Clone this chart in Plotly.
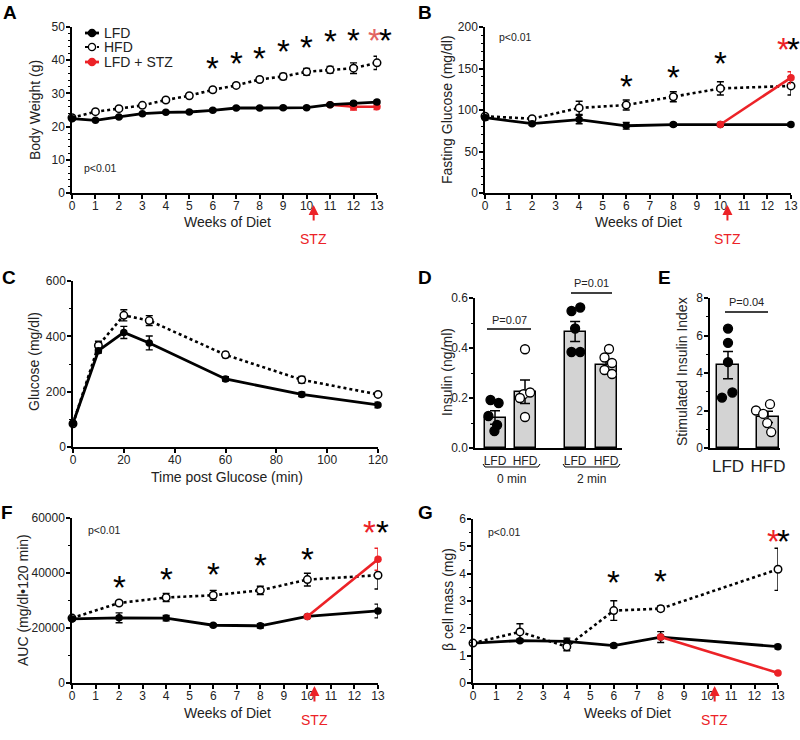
import plotly.graph_objects as go

W, H = 800, 740
RED = "#ec2227"
PINK = "#e26464"
FONT = "Arial, Liberation Sans, sans-serif"

# ---------------- Data ----------------
# A: body weight
weeks_A = list(range(14))
bw_lfd = [22.4, 21.9, 22.9, 23.9, 24.3, 24.4, 24.9, 25.6, 25.6, 25.7, 25.7, 26.6, 27.0, 27.4]
bw_lfd_err = [0.4, 0.3, 0.3, 0.3, 0.3, 0.3, 0.4, 0.4, 0.4, 0.4, 0.4, 0.4, 0.5, 0.5]
bw_hfd = [22.7, 24.5, 25.4, 26.4, 28.0, 29.3, 31.1, 32.4, 34.2, 35.1, 36.5, 37.1, 37.6, 39.2]
bw_hfd_err = [0.3, 0.5, 0.5, 0.5, 0.5, 0.5, 0.6, 0.6, 0.6, 0.9, 1.0, 1.0, 1.6, 2.0]
weeks_A_stz = [11, 12, 13]
bw_stz = [26.6, 26.0, 26.0]
bw_stz_err = [0.3, 1.0, 0.9]
star_weeks_A = [6, 7, 8, 9, 10, 11, 12]
star_y_A = [40.0, 41.5, 43.0, 45.0, 46.3, 48.0, 48.3]

# B: fasting glucose
weeks_B = [0, 2, 4, 6, 8, 10, 13]
fg_lfd = [90.8, 83.5, 88.5, 81.0, 82.5, 82.5, 82.5]
fg_lfd_err = [3, 2, 5, 4, 2, 2, 2]
fg_hfd = [92.5, 89.5, 102.5, 106.0, 116.0, 126.0, 129.0]
fg_hfd_err = [2, 2, 8, 6, 6, 8, 11]
weeks_B_stz = [10, 13]
fg_stz = [82.5, 139.0]
fg_stz_err = [0, 7]
star_weeks_B = [6, 8, 10]
star_y_B = [138, 149, 166]

# C: glucose tolerance
time_C = [0, 10, 20, 30, 60, 90, 120]
gtt_lfd = [86, 348, 414, 376, 246, 190, 152]
gtt_lfd_err = [5, 8, 22, 25, 8, 8, 10]
gtt_hfd = [84, 367, 476, 457, 333, 243, 190]
gtt_hfd_err = [5, 15, 20, 18, 10, 12, 6]

# D: insulin
groups_D = ["LFD", "HFD", "LFD", "HFD"]
ins_mean = [0.122, 0.225, 0.466, 0.333]
ins_err = [0.027, 0.047, 0.04, 0.021]
ins_pts = [
    [0.192, 0.180, 0.128, 0.092, 0.068],
    [0.395, 0.215, 0.222, 0.200, 0.124],
    [0.548, 0.562, 0.478, 0.384, 0.384],
    [0.396, 0.362, 0.340, 0.312, 0.296],
]
jit_D = [
    [-0.15, 0.12, -0.22, 0.07, -0.02],
    [0.0, -0.05, 0.17, -0.17, 0.0],
    [-0.12, 0.17, 0.0, -0.12, 0.17],
    [0.1, -0.05, 0.2, -0.05, 0.2],
]

# E: stimulated insulin index
groups_E = ["LFD", "HFD"]
sii_mean = [4.42, 1.66]
sii_err = [0.73, 0.30]
sii_pts = [[6.37, 5.61, 4.58, 2.69, 2.96], [2.0, 1.82, 2.34, 1.33, 0.85]]
jit_E = [[0.0, 0.0, 0.0, -0.15, 0.11], [-0.3, -0.12, 0.05, -0.02, 0.08]]

# F: AUC
weeks_F = [0, 2, 4, 6, 8, 10, 13]
auc_lfd = [23300, 23700, 23600, 21000, 20800, 24200, 26200]
auc_lfd_err = [600, 1800, 1000, 500, 800, 400, 2500]
auc_hfd = [23600, 29100, 31100, 31900, 33700, 37600, 39200]
auc_hfd_err = [500, 700, 1500, 1800, 1500, 2300, 5000]
weeks_F_stz = [10, 13]
auc_stz = [24200, 45000]
auc_stz_err = [0, 4000]
star_weeks_F = [2, 4, 6, 8, 10]
star_y_F = [37600, 40600, 42400, 45800, 47900]

# G: beta cell mass
weeks_G = [0, 2, 4, 6, 8, 13]
bcm_lfd = [1.46, 1.55, 1.52, 1.37, 1.68, 1.33]
bcm_lfd_err = [0.03, 0.06, 0.12, 0.07, 0.2, 0.08]
bcm_hfd = [1.46, 1.87, 1.33, 2.65, 2.72, 4.16]
bcm_hfd_err = [0.03, 0.3, 0.15, 0.36, 0.1, 0.77]
weeks_G_stz = [8, 13]
bcm_stz = [1.68, 0.37]
bcm_stz_err = [0, 0.03]
star_weeks_G = [6, 8]
star_y_G = [3.98, 4.0]

week_ticks = list(range(14))

# ---------------- Layout helpers ----------------
def px_dom_x(a, b):
    return [a / W, b / W]

def px_dom_y(top, bottom):
    return [1 - bottom / H, 1 - top / H]

def axis(dom, rng, tickvals=None, ticktext=None, minor=None, tickfont=12, showticks=True, standoff=-3):
    d = dict(domain=dom, range=rng, showline=True, linewidth=1.5, linecolor="black",
             ticks="outside" if showticks else "", ticklen=4, tickwidth=1.5, tickcolor="black",
             showgrid=False, zeroline=False, tickfont=dict(size=tickfont, color="#222", family=FONT),
             fixedrange=True, automargin=False, ticklabelstandoff=standoff)
    if tickvals is not None:
        d["tickmode"] = "array"
        d["tickvals"] = tickvals
        if ticktext is not None:
            d["ticktext"] = ticktext
    if minor is not None:
        d["minor"] = dict(dtick=minor, ticklen=2.5, tickwidth=1, tickcolor="black", ticks="outside")
    return d

fig = go.Figure()

def line_trace(x, y, err, ax, kind):
    if kind == "lfd":
        mk = dict(size=7.5, color="black", symbol="circle")
        ln = dict(color="black", width=2.8)
        ec = "black"
    elif kind == "hfd":
        mk = dict(size=7.5, color="white", symbol="circle", line=dict(color="black", width=1.5))
        ln = dict(color="black", width=2.6, dash="dot")
        ec = "black"
    else:
        mk = dict(size=7.5, color=RED, symbol="circle")
        ln = dict(color=RED, width=2.6)
        ec = RED
    fig.add_trace(go.Scatter(
        x=x, y=y, mode="lines+markers", marker=mk, line=ln,
        error_y=dict(type="data", array=err, visible=True, color=ec, thickness=1.4, width=3.5),
        xaxis="x" + ax, yaxis="y" + ax, showlegend=False, cliponaxis=False, hoverinfo="skip"))

ids = {"A": "", "B": "2", "C": "3", "D": "4", "E": "5", "F": "6", "G": "7"}

# A
line_trace(weeks_A, bw_hfd, bw_hfd_err, ids["A"], "hfd")
line_trace(weeks_A_stz, bw_stz, bw_stz_err, ids["A"], "stz")
line_trace(weeks_A, bw_lfd, bw_lfd_err, ids["A"], "lfd")
# B
line_trace(weeks_B, fg_hfd, fg_hfd_err, ids["B"], "hfd")
line_trace(weeks_B, fg_lfd, fg_lfd_err, ids["B"], "lfd")
line_trace(weeks_B_stz, fg_stz, fg_stz_err, ids["B"], "stz")
# C
line_trace(time_C, gtt_hfd, gtt_hfd_err, ids["C"], "hfd")
line_trace(time_C, gtt_lfd, gtt_lfd_err, ids["C"], "lfd")
# F
line_trace(weeks_F, auc_hfd, auc_hfd_err, ids["F"], "hfd")
line_trace(weeks_F, auc_lfd, auc_lfd_err, ids["F"], "lfd")
line_trace(weeks_F_stz, auc_stz, auc_stz_err, ids["F"], "stz")
# G
line_trace(weeks_G, bcm_lfd, bcm_lfd_err, ids["G"], "lfd")
line_trace(weeks_G_stz, bcm_stz, bcm_stz_err, ids["G"], "stz")
line_trace(weeks_G, bcm_hfd, bcm_hfd_err, ids["G"], "hfd")

# D bars
pos_D = [1, 2, 3.67, 4.7]
fig.add_trace(go.Bar(x=pos_D, y=ins_mean, width=0.7, marker=dict(color="#d3d3d3", line=dict(color="black", width=1.5)),
                     error_y=dict(type="data", array=ins_err, color="black", thickness=1.5, width=5),
                     xaxis="x4", yaxis="y4", showlegend=False, hoverinfo="skip"))
for i, (p, pts, jit) in enumerate(zip(pos_D, ins_pts, jit_D)):
    filled = groups_D[i] == "LFD"
    fig.add_trace(go.Scatter(x=[p + j for j in jit], y=pts, mode="markers",
                             marker=dict(size=9, color="black" if filled else "white",
                                         line=dict(color="black", width=1.3)),
                             xaxis="x4", yaxis="y4", showlegend=False, cliponaxis=False, hoverinfo="skip"))
# E bars
pos_E = [1, 2]
fig.add_trace(go.Bar(x=pos_E, y=sii_mean, width=0.55, marker=dict(color="#d3d3d3", line=dict(color="black", width=1.5)),
                     error_y=dict(type="data", array=sii_err, color="black", thickness=1.5, width=5),
                     xaxis="x5", yaxis="y5", showlegend=False, hoverinfo="skip"))
for i, (p, pts, jit) in enumerate(zip(pos_E, sii_pts, jit_E)):
    filled = groups_E[i] == "LFD"
    fig.add_trace(go.Scatter(x=[p + j for j in jit], y=pts, mode="markers",
                             marker=dict(size=9, color="black" if filled else "white",
                                         line=dict(color="black", width=1.3)),
                             xaxis="x5", yaxis="y5", showlegend=False, cliponaxis=False, hoverinfo="skip"))

layout = dict(
    width=W, height=H, margin=dict(l=0, r=0, t=0, b=0, autoexpand=False),
    paper_bgcolor="white", plot_bgcolor="rgba(0,0,0,0)",
    font=dict(family=FONT, color="#222"),
    showlegend=False,
    bargap=0,
)
layout["xaxis"] = axis(px_dom_x(72, 377), [0, 13], week_ticks)
layout["yaxis"] = axis(px_dom_y(27, 193), [0, 50], [0, 10, 20, 30, 40, 50], minor=2, standoff=-1)
layout["xaxis2"] = axis(px_dom_x(485, 791), [0, 13], week_ticks)
layout["yaxis2"] = axis(px_dom_y(27, 193), [0, 200], [0, 50, 100, 150, 200], minor=10, standoff=-1)
layout["xaxis3"] = axis(px_dom_x(73, 378), [0, 120], [0, 20, 40, 60, 80, 100, 120])
layout["yaxis3"] = axis(px_dom_y(281, 447), [0, 600], [0, 200, 400, 600], minor=100, standoff=-1)
layout["xaxis4"] = axis(px_dom_x(475, 622), [0.333, 5.233], pos_D, groups_D, showticks=False, standoff=1)
layout["yaxis4"] = axis(px_dom_y(298, 448), [0, 0.6], [0, 0.2, 0.4, 0.6], ["0.0", "0.2", "0.4", "0.6"], minor=0.1, standoff=-1)
layout["xaxis5"] = axis(px_dom_x(710, 780), [0.55, 2.3], pos_E, groups_E, tickfont=17, showticks=False, standoff=2)
layout["yaxis5"] = axis(px_dom_y(298, 448), [0, 8], [0, 2, 4, 6, 8], minor=1, standoff=-1)
layout["xaxis6"] = axis(px_dom_x(72, 378), [0, 13], week_ticks)
layout["yaxis6"] = axis(px_dom_y(518, 683), [0, 60000], [0, 20000, 40000, 60000],
                        ["0", "20000", "40000", "60000"], minor=10000, standoff=-1)
layout["xaxis7"] = axis(px_dom_x(473, 778), [0, 13], week_ticks)
layout["yaxis7"] = axis(px_dom_y(519, 683), [0, 6], [0, 1, 2, 3, 4, 5, 6], minor=0.5, standoff=-1)
for k in ["2", "3", "4", "5", "6", "7"]:
    layout["xaxis" + k]["anchor"] = "y" + k
    layout["yaxis" + k]["anchor"] = "x" + k
fig.update_layout(**layout)

annotations = []
shapes = []

def py(p):
    return 1 - p / H

def pxx(p):
    return p / W

def text(xp, yp, s, size=14, color="#222", bold=False, angle=0, xanchor="center", yanchor="middle"):
    annotations.append(dict(x=pxx(xp), y=py(yp), xref="paper", yref="paper", text=("<b>%s</b>" % s) if bold else s,
                            showarrow=False, font=dict(size=size, color=color, family=FONT),
                            textangle=angle, xanchor=xanchor, yanchor=yanchor))

# panel letters
for L, (xp, yp) in {"A": (10, 12), "B": (425, 12), "C": (9, 277), "D": (425, 277),
                    "E": (664, 277), "F": (7, 512), "G": (425, 512)}.items():
    text(xp, yp, L, size=19, color="black", bold=True)

# axis titles
text(35, 110, "Body Weight (g)", angle=-90)
text(227, 222, "Weeks of Diet")
text(447, 110, "Fasting Glucose (mg/dl)", angle=-90)
text(638, 222, "Weeks of Diet")
text(34, 362, "Glucose (mg/dl)", angle=-90)
text(227, 477, "Time post Glucose (min)")
text(447, 372, "Insulin (ng/ml)", angle=-90)
text(682, 372, "Stimulated Insulin Index", angle=-90)
text(23, 600, "AUC (mg/dl\u2022120 min)", angle=-90)
text(227, 713, "Weeks of Diet")
text(448, 600, "\u03b2 cell mass (mg)", angle=-90)
text(627, 713, "Weeks of Diet")

# p values
text(82, 168, "p<0.01", size=10.5, xanchor="left")
text(497, 37, "p<0.01", size=10.5, xanchor="left")
text(86, 530, "p<0.01", size=10.5, xanchor="left")
text(486, 532, "p<0.01", size=10.5, xanchor="left")

# asterisks
def star(xv, yv, ax, color="black", xshift=0):
    annotations.append(dict(x=xv, y=yv, xref="x" + ax, yref="y" + ax, text="*", showarrow=False,
                            font=dict(size=33, color=color, family=FONT), yshift=-8, xshift=xshift))

for xv, yv in zip(star_weeks_A, star_y_A):
    star(xv, yv, "")
star(13, 48.3, "", PINK, -3)
star(13, 48.3, "", "black", 8)
for xv, yv in zip(star_weeks_B, star_y_B):
    star(xv, yv, "2")
star(13, 182, "2", RED, -8)
star(13, 182, "2", "black", 2)
for xv, yv in zip(star_weeks_F, star_y_F):
    star(xv, yv, "6")
star(13, 57600, "6", RED, -9)
star(13, 57600, "6", "black", 4)
for xv, yv in zip(star_weeks_G, star_y_G):
    star(xv, yv, "7")
star(13, 5.47, "7", RED, -5)
star(13, 5.47, "7", "black", 5)

# STZ arrows
def stz(xv, ax, tip_y, text_y):
    annotations.append(dict(x=xv, y=py(tip_y), xref="x" + ax, yref="paper", text="STZ", showarrow=True,
                            ax=0, ay=text_y - tip_y, arrowhead=2, arrowsize=1, arrowwidth=2, arrowcolor=RED,
                            startstandoff=9, font=dict(size=14, color=RED, family=FONT)))

stz(10.3, "", 205, 239)
stz(10.3, "2", 205, 239)
stz(10.3, "6", 686, 720)
stz(10.3, "7", 686, 720)

# significance bars
def hline(x0, x1, yp, w=1.3):
    shapes.append(dict(type="line", xref="paper", yref="paper", x0=pxx(x0), x1=pxx(x1), y0=py(yp), y1=py(yp),
                       line=dict(color="black", width=w)))

hline(487, 531, 329)
text(509, 320, "P=0.07", size=11)
hline(571, 612, 293)
text(591, 283, "P=0.01", size=11)
hline(725, 768, 312)
text(746, 302, "P=0.04", size=11)

# brackets for D groups
def bracket(x0, x1, yp):
    path = "M %f,%f L %f,%f L %f,%f L %f,%f" % (pxx(x0), py(yp - 3), pxx(x0 + 2), py(yp), pxx(x1 - 2), py(yp), pxx(x1), py(yp - 3))
    shapes.append(dict(type="path", xref="paper", yref="paper", path=path, line=dict(color="black", width=1)))

bracket(483, 540, 467)
bracket(563, 620, 467)
text(511, 479, "0 min", size=12)
text(591, 479, "2 min", size=12)

# legend (panel A)
def leg(yp, kind, label):
    if kind == "hfd":
        shapes.append(dict(type="line", xref="paper", yref="paper", x0=pxx(85), x1=pxx(99), y0=py(yp), y1=py(yp),
                           line=dict(color="black", width=2.2, dash="dot")))
        fill, lc = "white", "black"
    else:
        c = "black" if kind == "lfd" else RED
        shapes.append(dict(type="line", xref="paper", yref="paper", x0=pxx(85), x1=pxx(99), y0=py(yp), y1=py(yp),
                           line=dict(color=c, width=2.8)))
        fill, lc = c, c
    r = 3.6
    shapes.append(dict(type="circle", xref="paper", yref="paper", x0=pxx(92 - r), x1=pxx(92 + r),
                       y0=py(yp - r), y1=py(yp + r), fillcolor=fill, line=dict(color=lc, width=1.3)))
    text(102, yp, label, size=14, xanchor="left")

leg(33, "lfd", "LFD")
leg(47, "hfd", "HFD")
leg(62, "stz", "LFD + STZ")

fig.update_layout(annotations=annotations, shapes=shapes)
fig.write_html("out.html", config={"displayModeBar": False},
               post_script="document.body.style.margin='0px';document.body.style.padding='0px';document.body.style.overflow='hidden';")
